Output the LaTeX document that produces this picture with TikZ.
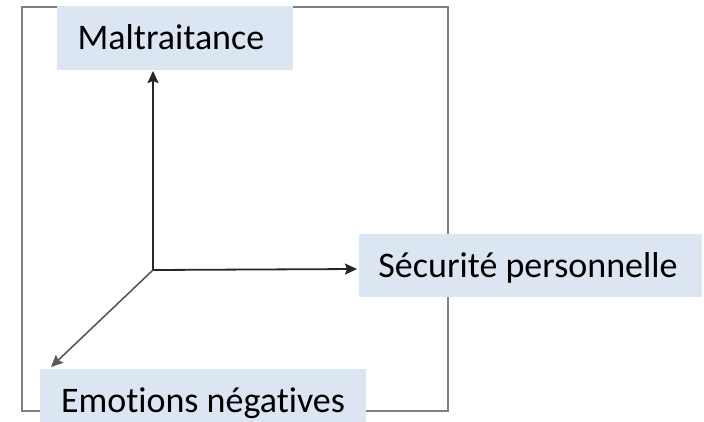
\documentclass[tikz,border=0pt]{standalone}
\usepackage{fontspec}
\setmainfont{Carlito}[Ligatures=NoCommon]
\usetikzlibrary{arrows.meta}
\definecolor{boxblue}{HTML}{DCE6F2}
\definecolor{framegray}{HTML}{808080}
\tikzset{
  label box/.style={fill=boxblue, draw=none, inner sep=0pt, align=center,
    font=\fontsize{36}{43}\selectfont, text height=23pt, text depth=0pt},
  axis/.style={draw=black!85, line width=1.8pt, -{Stealth[length=12pt,width=11pt,inset=2pt]}},
  diag axis/.style={draw=black!65, line width=1.6pt, -{Stealth[length=12pt,width=11pt,inset=2pt]}},
}
\begin{document}
\begin{tikzpicture}[x=1pt,y=-1pt]
\useasboundingbox (0,0) rectangle (704,421);
% frame
\draw[framegray, line width=1.8pt] (22,7) rectangle (448,411);
% label boxes
\node[label box, minimum width=236pt, minimum height=64pt] (malt) at (175,38) {Maltraitance\hspace*{8pt}};
\node[label box, minimum width=343pt, minimum height=63pt] (secu) at (530.5,265.5) {Sécurité personnelle\hspace*{5pt}};
\node[label box, minimum width=326pt, minimum height=63pt] (emo) at (203,400.5) {Emotions négatives};
% axes
\coordinate (o) at (153,270);
\coordinate (ytip) at (153,71);
\coordinate (xtip) at (357,269);
\coordinate (ztip) at (51,367);
\draw[axis] (o) -- (ytip);
\draw[axis] (o) -- (xtip);
\draw[diag axis] (o) -- (ztip);
\end{tikzpicture}
\end{document}
